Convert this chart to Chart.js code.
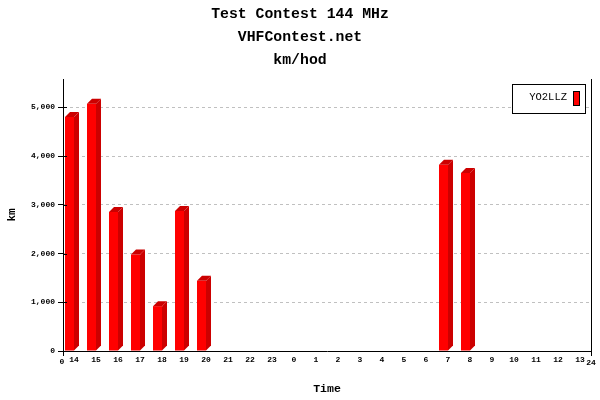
<!DOCTYPE html>
<html>
<head>
<meta charset="utf-8">
<script src="https://cdn.jsdelivr.net/npm/chart.js@4"></script>
<style>
    body { margin: 0; background: #ffffff; }
    canvas { display: block; }
</style>
</head>
<body>
<canvas id="km-chart" width="600" height="400"></canvas>
<script>
const titleLines = ['Test Contest 144 MHz', 'VHFContest.net', 'km/hod'];
const hours = ['14', '15', '16', '17', '18', '19', '20', '21', '22', '23',
    '0', '1', '2', '3', '4', '5', '6', '7', '8', '9', '10', '11', '12', '13'];
const kmPerHour = [4800, 5070, 2850, 1980, 920, 2870, 1440, 0, 0, 0,
    0, 0, 0, 0, 0, 0, 0, 3820, 3650, 0, 0, 0, 0, 0];
const kmTicks = [0, 1000, 2000, 3000, 4000, 5000];
const stationName = 'YO2LLZ';
const axisEndLabels = ['0', '24'];
const yMax = 5580;

const MONO = '"Liberation Mono", "DejaVu Sans Mono", monospace';
const DEPTH = 5;

// Side and top faces of the bars, plus the little axis details
const bar3dPlugin = {
    id: 'bar3d',
    afterDatasetsDraw: (chart) => {
        const ctx = chart.ctx;
        const meta = chart.getDatasetMeta(0);
        ctx.save();
        ctx.fillStyle = '#cc0000';
        meta.data.forEach((bar, i) => {
            if (!kmPerHour[i]) {
                return;
            }
            const { x, y, base, width } = bar.getProps(['x', 'y', 'base', 'width'], true);
            const xl = x - width / 2;
            const xr = x + width / 2;
            ctx.beginPath();
            ctx.moveTo(xr, base);
            ctx.lineTo(xr, y);
            ctx.lineTo(xr + DEPTH, y - DEPTH);
            ctx.lineTo(xr + DEPTH, base - DEPTH);
            ctx.closePath();
            ctx.fill();
            ctx.beginPath();
            ctx.moveTo(xl, y);
            ctx.lineTo(xl + DEPTH, y - DEPTH);
            ctx.lineTo(xr + DEPTH, y - DEPTH);
            ctx.lineTo(xr, y);
            ctx.closePath();
            ctx.fill();
        });
        ctx.restore();
    },
    afterDraw: (chart) => {
        const ctx = chart.ctx;
        const area = chart.chartArea;
        const yScale = chart.scales.y;
        ctx.save();
        ctx.strokeStyle = '#000000';
        ctx.lineWidth = 1;
        ctx.beginPath();
        yScale.ticks.forEach(tick => {
            const py = Math.round(yScale.getPixelForValue(tick.value)) + 0.5;
            ctx.moveTo(area.left, py);
            ctx.lineTo(area.left + 4, py);
        });
        [area.left, area.right].forEach(px => {
            const rx = Math.round(px) + 0.5;
            ctx.moveTo(rx, area.bottom);
            ctx.lineTo(rx, area.bottom + 5);
        });
        ctx.stroke();

        ctx.fillStyle = '#000000';
        ctx.font = 'bold 8px ' + MONO;
        ctx.textAlign = 'center';
        ctx.textBaseline = 'middle';
        ctx.fillText(axisEndLabels[0], area.left - 1, area.bottom + 11);
        ctx.fillText(axisEndLabels[1], area.right, area.bottom + 12);

        // Legend box in the top right corner of the plot
        const dataset = chart.data.datasets[0];
        const boxRight = area.right - 5;
        const boxTop = area.top + 5;
        const boxW = 74;
        const boxH = 30;
        ctx.fillStyle = '#ffffff';
        ctx.fillRect(boxRight - boxW, boxTop, boxW, boxH);
        ctx.strokeRect(boxRight - boxW + 0.5, boxTop + 0.5, boxW - 1, boxH - 1);
        ctx.fillStyle = dataset.backgroundColor;
        ctx.fillRect(boxRight - 13, boxTop + 7, 7, 15);
        ctx.strokeRect(boxRight - 12.5, boxTop + 7.5, 6, 14);
        ctx.fillStyle = '#000000';
        ctx.font = '10.5px ' + MONO;
        ctx.textAlign = 'right';
        ctx.fillText(dataset.label, boxRight - 19, boxTop + 13);
        ctx.restore();
    }
};

const renderKmChart = () => {
    const ctx = document.querySelector('canvas#km-chart').getContext('2d');

    return new Chart(ctx, {
        type: 'bar',
        data: {
            labels: hours,
            datasets: [
                {
                    label: stationName,
                    data: kmPerHour,
                    backgroundColor: '#ff0000',
                    barThickness: 9,
                    inflateAmount: 0
                },
                {
                    // empty spacer so the front face sits left of the slot centre
                    label: '',
                    data: [],
                    barThickness: 9
                }
            ]
        },
        options: {
            responsive: false,
            animation: false,
            devicePixelRatio: 1,
            locale: 'en-US',
            layout: { padding: 0 },
            plugins: {
                legend: { display: false },
                tooltip: { enabled: false },
                title: {
                    display: true,
                    text: titleLines,
                    color: '#000000',
                    font: { family: MONO, size: 14.8, weight: 'bold', lineHeight: '23px' },
                    padding: { top: 3, bottom: 7 }
                }
            },
            scales: {
                x: {
                    offset: true,
                    grid: { display: false, drawTicks: false },
                    border: { display: true, color: '#000000', width: 1 },
                    ticks: {
                        color: '#000000',
                        padding: 4,
                        autoSkip: false,
                        maxRotation: 0,
                        font: { family: MONO, size: 8, weight: 'bold' }
                    },
                    title: {
                        display: true,
                        text: 'Time',
                        color: '#000000',
                        font: { family: MONO, size: 11.5, weight: 'bold' },
                        padding: { top: 0, bottom: 4 }
                    },
                    afterFit: (scale) => { scale.height = 49; }
                },
                y: {
                    min: 0,
                    max: yMax,
                    ticks: {
                        autoSkip: false,
                        color: '#000000',
                        padding: 3,
                        font: { family: MONO, size: 8, weight: 'bold' }
                    },
                    afterBuildTicks: (scale) => {
                        scale.ticks = kmTicks.map(value => ({ value }));
                    },
                    grid: {
                        color: '#c0c0c0',
                        tickColor: '#000000',
                        tickLength: 5
                    },
                    border: { display: true, color: '#000000', width: 1, dash: [3, 3] },
                    title: {
                        display: true,
                        text: 'km',
                        color: '#000000',
                        font: { family: MONO, size: 11, weight: 'bold' },
                        padding: { top: 6, bottom: 0 }
                    },
                    afterFit: (scale) => { scale.width = 63; }
                },
                yRight: {
                    position: 'right',
                    display: true,
                    ticks: { display: false },
                    grid: { display: false, drawTicks: false },
                    border: { display: true, color: '#000000', width: 1 },
                    afterFit: (scale) => { scale.width = 9; }
                }
            }
        },
        plugins: [bar3dPlugin]
    });
};

document.addEventListener('DOMContentLoaded', () => {
    renderKmChart();
});
</script>
</body>
</html>
